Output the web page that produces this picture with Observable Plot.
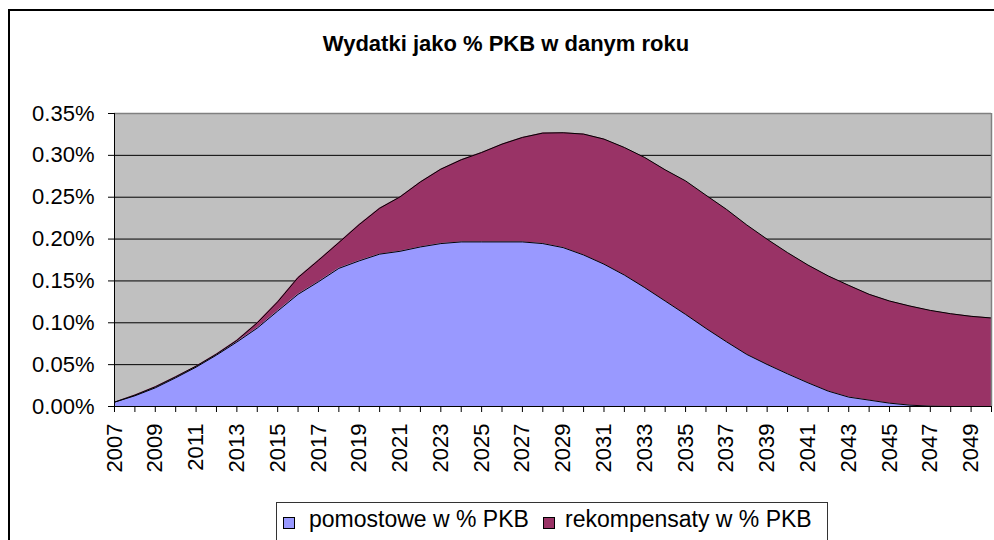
<!DOCTYPE html>
<html>
<head>
<meta charset="utf-8">
<script src="https://cdn.jsdelivr.net/npm/d3@7"></script>
<script src="https://cdn.jsdelivr.net/npm/@observablehq/plot@0.6"></script>
<style>
  html, body { margin: 0; padding: 0; background: #fff; overflow: hidden; }
  #wrap { position: relative; width: 994px; height: 540px; overflow: hidden; font-family: "Liberation Sans", Arial, sans-serif; }
  #frame { position: absolute; left: 8px; top: 9px; width: 1000px; height: 600px; border: 2px solid #000; box-sizing: border-box; }
  #chart { position: absolute; left: 0; top: 0; }
  #title { position: absolute; left: 0; width: 1012px; top: 31px; text-align: center; font-weight: bold; font-size: 22px; color: #000; }
  #legend { position: absolute; left: 276px; top: 502px; width: 552px; height: 60px; border: 1px solid #333; background: #fff; box-sizing: border-box; font-size: 23px; }
  .sw { position: absolute; top: 14px; width: 10px; height: 10px; border: 1px solid #000; }
  .lt { position: absolute; top: 3px; white-space: nowrap; }
</style>
</head>
<body>
<div id="wrap">
  <div id="frame"></div>
  <div id="chart"></div>
  <div id="title">Wydatki jako % PKB w danym roku</div>
  <div id="legend"></div>
</div>
<script>
const years = [2007,2008,2009,2010,2011,2012,2013,2014,2015,2016,2017,2018,2019,2020,2021,2022,2023,2024,2025,2026,2027,2028,2029,2030,2031,2032,2033,2034,2035,2036,2037,2038,2039,2040,2041,2042,2043,2044,2045,2046,2047,2048,2049,2050];
const labelYears = [2007,2009,2011,2013,2015,2017,2019,2021,2023,2025,2027,2029,2031,2033,2035,2037,2039,2041,2043,2045,2047,2049];
const pomostowe = [0.0052,0.0128,0.0223,0.0343,0.047,0.0614,0.077,0.0937,0.114,0.134,0.149,0.165,0.174,0.182,0.1854,0.1906,0.1946,0.1966,0.1966,0.1966,0.1966,0.1946,0.1898,0.181,0.170,0.157,0.142,0.126,0.110,0.0933,0.0774,0.0622,0.0502,0.039,0.0283,0.0183,0.0112,0.0076,0.004,0.0016,0.0004,0,0,0];
const rekompensaty = [0,0.0008,0.0012,0.0012,0.0012,0.0012,0.002,0.0063,0.011,0.020,0.0256,0.0308,0.0433,0.0548,0.065,0.0777,0.0889,0.0981,0.1068,0.1168,0.1248,0.132,0.1372,0.1444,0.1494,0.1524,0.1554,0.1567,0.1595,0.1591,0.1582,0.1547,0.1496,0.1448,0.1407,0.1376,0.1335,0.1264,0.122,0.1184,0.1144,0.1108,0.1077,0.1057];
const yTicks = [0,0.05,0.10,0.15,0.20,0.25,0.30,0.35];
const seriesNames = ["pomostowe w % PKB", "rekompensaty w % PKB"];
const seriesColors = ["#9999FF", "#993366"];
const title = "Wydatki jako % PKB w danym roku";

const data = [];
years.forEach((y, i) => data.push({year: y, series: seriesNames[0], value: pomostowe[i]}));
years.forEach((y, i) => data.push({year: y, series: seriesNames[1], value: rekompensaty[i]}));

const chart = Plot.plot({
  width: 994,
  height: 540,
  marginLeft: 114,
  marginRight: 3,
  marginTop: 113,
  marginBottom: 134,
  style: {fontFamily: "'Liberation Sans', Arial, sans-serif", background: "transparent", color: "#000", overflow: "visible"},
  x: {domain: [2007, 2050], label: null},
  y: {domain: [0, 0.35], label: null},
  color: {domain: seriesNames, range: seriesColors},
  marks: [
    Plot.frame({fill: "#C0C0C0", stroke: null}),
    Plot.gridY({ticks: yTicks, stroke: "#000", strokeOpacity: 1, strokeWidth: 1}),
    Plot.areaY(data, Plot.stackY({x: "year", y: "value", fill: "series", z: "series"})),
    Plot.lineY(data, Plot.stackY2({x: "year", y: "value", z: "series", stroke: "#000", strokeWidth: 1})),
    Plot.ruleY([0.35], {stroke: "#808080", strokeWidth: 1.5}),
    Plot.ruleX([2050], {stroke: "#808080", strokeWidth: 1.5}),
    Plot.ruleX([2007], {stroke: "#000", strokeWidth: 1}),
    Plot.ruleY([0], {stroke: "#000", strokeWidth: 1}),
    Plot.axisY({ticks: yTicks, tickFormat: d => d.toFixed(2) + "%", tickSize: 6, tickPadding: 14, fontSize: 22, label: null}),
    Plot.axisX({ticks: years, tickFormat: () => "", tickSize: 6, label: null}),
    Plot.axisX({ticks: labelYears, tickFormat: d => String(d), tickSize: 0, tickPadding: 17, tickRotate: -90, fontSize: 22, label: null})
  ]
});
document.getElementById("chart").appendChild(chart);

const legend = document.getElementById("legend");
const legendPos = [{sw: 6, tx: 32}, {sw: 266, tx: 288}];
seriesNames.forEach((name, i) => {
  const s = document.createElement("div");
  s.className = "sw";
  s.style.left = legendPos[i].sw + "px";
  s.style.background = seriesColors[i];
  legend.appendChild(s);
  const t = document.createElement("div");
  t.className = "lt";
  t.style.left = legendPos[i].tx + "px";
  t.textContent = name;
  legend.appendChild(t);
});
</script>
</body>
</html>
